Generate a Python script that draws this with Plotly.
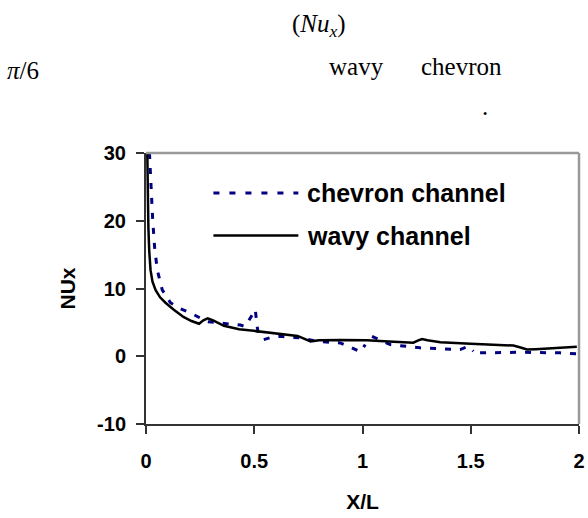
import plotly.graph_objects as go

# ---- data ----
wavy_x = [0.006, 0.008, 0.011, 0.015, 0.021, 0.03, 0.044, 0.065, 0.09, 0.127, 0.173, 0.21, 0.236, 0.245,
          0.265, 0.285, 0.31, 0.36, 0.43, 0.513, 0.6, 0.667, 0.70, 0.76, 0.80, 0.90, 1.02, 1.10, 1.235,
          1.255, 1.275, 1.30, 1.36, 1.50, 1.697, 1.73, 1.76, 1.80, 1.88, 1.99]
wavy_y = [30, 24, 19, 15.5, 12.7, 11.0, 9.8, 8.7, 7.9, 6.9, 5.8, 5.2, 4.9, 4.8,
          5.3, 5.6, 5.3, 4.5, 4.0, 3.7, 3.4, 3.2, 3.0, 2.2, 2.35, 2.4, 2.35, 2.2, 2.0,
          2.3, 2.55, 2.35, 2.05, 1.85, 1.57, 1.3, 1.0, 1.05, 1.2, 1.4]

chevron_x = [0.016, 0.022, 0.031, 0.04, 0.052, 0.075, 0.113, 0.16, 0.205, 0.284, 0.36, 0.436, 0.459,
             0.48, 0.505, 0.512, 0.519, None, 0.544, 0.58, 0.62, 0.713, 0.79, 0.897, 0.951, 0.99, 1.013,
             None, 1.044, 1.082, 1.128, 1.266, 1.451, 1.489, 1.512, None, 1.543, 1.728, 1.912, 1.997]
chevron_y = [30, 25, 20.1, 16, 12.75, 9.8, 7.9, 7.0, 6.4, 5.1, 4.9, 4.6, 4.4,
             5.5, 6.9, 4.6, 3.4, None, 2.46, 2.8, 2.94, 2.7, 2.2, 1.97, 1.24, 0.65, 1.72,
             None, 2.94, 2.35, 1.72, 1.24, 0.99, 1.47, 0.74, None, 0.5, 0.59, 0.5, 0.35]

x_ticks = [0, 0.5, 1, 1.5, 2]
x_ticklabels = ["0", "0.5", "1", "1.5", "2"]
y_ticks = [-10, 0, 10, 20, 30]
y_ticklabels = ["-10", "0", "10", "20", "30"]

series_names = ["chevron channel", "wavy channel"]

SANS = "Liberation Sans, Arial, sans-serif"
SERIF = "Liberation Serif, Times New Roman, serif"
NAVY = "#000080"

fig = go.Figure()
fig.add_trace(go.Scatter(x=chevron_x, y=chevron_y, mode="lines", name=series_names[0],
                         line=dict(color=NAVY, width=3, dash="6px,9px"), connectgaps=False,
                         showlegend=False))
fig.add_trace(go.Scatter(x=wavy_x, y=wavy_y, mode="lines", name=series_names[1],
                         line=dict(color="black", width=2.5), showlegend=False))

axis_font = dict(family=SANS, size=20, color="black", weight="bold")

fig.update_layout(
    template="none",
    width=588, height=518,
    margin=dict(l=145.5, r=9, t=152.7, b=94, pad=0),
    paper_bgcolor="white", plot_bgcolor="white",
    xaxis=dict(range=[0, 2], tickvals=x_ticks, ticktext=x_ticklabels, showgrid=False, zeroline=False,
               automargin=False,
               showline=True, linecolor="#333", linewidth=2, ticks="outside", ticklen=8,
               tickcolor="#333", tickwidth=1.5, tickfont=axis_font, ticklabelstandoff=10,
               title=dict(text="X/L", font=dict(family=SANS, size=21, color="black", weight="bold"),
                          standoff=23)),
    yaxis=dict(range=[-10, 30], tickvals=y_ticks, ticktext=y_ticklabels, showgrid=False, zeroline=False,
               automargin=False,
               showline=True, linecolor="#333", linewidth=2, ticks="outside", ticklen=8,
               tickcolor="#333", tickwidth=1.5, tickfont=axis_font, ticklabelstandoff=6,
               title=dict(text="NUx", font=dict(family=SANS, size=21, color="black", weight="bold"),
                          standoff=16)),
    showlegend=False,
)

# top/right frame (gray)
fig.add_shape(type="line", xref="paper", yref="paper", x0=0, x1=1, y0=1, y1=1,
              line=dict(color="#999", width=2.5))
fig.add_shape(type="line", xref="paper", yref="paper", x0=1, x1=1, y0=0, y1=1,
              line=dict(color="#999", width=2.5))

# manual legend
leg_x0, leg_x1, leg_tx = 0.1557, 0.3518, 0.368
leg_rows = [0.8526, 0.6955]
fig.add_shape(type="line", xref="paper", yref="paper", x0=leg_x0, x1=leg_x1, y0=leg_rows[0], y1=leg_rows[0],
              line=dict(color=NAVY, width=3, dash="6px,10px"))
fig.add_shape(type="line", xref="paper", yref="paper", x0=leg_x0, x1=leg_x1, y0=leg_rows[1], y1=leg_rows[1],
              line=dict(color="black", width=2.5))
for name, yy in zip(series_names, leg_rows):
    fig.add_annotation(x=leg_tx, y=yy, xref="paper", yref="paper", text=name, showarrow=False,
                       xanchor="left", yanchor="middle",
                       font=dict(family=SANS, size=25, color="black", weight="bold"))

# surrounding text from the source page
page_font = dict(family=SERIF, size=25, color="black")
fig.add_annotation(x=0.400, y=1.47, xref="paper", yref="paper", showarrow=False,
                   text="(<i>Nu</i><sub><i>x</i></sub>)", xanchor="center", yanchor="middle", font=page_font)
fig.add_annotation(x=-0.326, y=1.305, xref="paper", yref="paper", showarrow=False,
                   text="<i>π</i>/6", xanchor="left", yanchor="middle", font=page_font)
fig.add_annotation(x=0.419, y=1.32, xref="paper", yref="paper", showarrow=False,
                   text="wavy", xanchor="left", yanchor="middle", font=page_font)
fig.add_annotation(x=0.631, y=1.32, xref="paper", yref="paper", showarrow=False,
                   text="chevron", xanchor="left", yanchor="middle", font=page_font)
fig.add_annotation(x=0.771, y=1.17, xref="paper", yref="paper", showarrow=False,
                   text=".", xanchor="left", yanchor="middle", font=page_font)

fig.write_html("out.html")
